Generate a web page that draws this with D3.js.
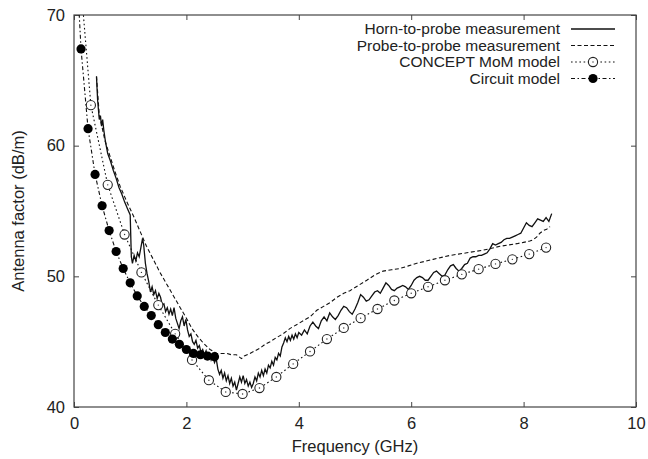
<!DOCTYPE html>
<html><head><meta charset="utf-8">
<script src="https://cdn.jsdelivr.net/npm/d3@7"></script>
<style>
html,body{margin:0;padding:0;background:#fff;}
text{font-family:"Liberation Sans",Arial,sans-serif;fill:#222;}
</style></head>
<body><svg id="c" width="648" height="459"></svg>
<script>
// ---- data ----
const xTicks = [0, 2, 4, 6, 8, 10];
const yTicks = [40, 50, 60, 70];
const seriesNames = ["Horn-to-probe measurement", "Probe-to-probe measurement", "CONCEPT MoM model", "Circuit model"];

const hornFreq = [0.40,0.42,0.45,0.47,0.49,0.51,0.53,0.56,0.60,0.65,0.70,0.75,0.80,0.85,0.90,0.95,1.00,1.02,1.04,1.07,1.10,1.13,1.16,1.19,1.22,1.24,1.27,1.30,1.33,1.36,1.39,1.42,1.45,1.48,1.51,1.54,1.57,1.60,1.63,1.66,1.69,1.72,1.75,1.78,1.81,1.84,1.87,1.90,1.93,1.96,1.99,2.02,2.05,2.08,2.11,2.14,2.17,2.20,2.23,2.26,2.29,2.32,2.35,2.38,2.41,2.44,2.47,2.50,2.53,2.56,2.59,2.62,2.65,2.68,2.71,2.74,2.77,2.80,2.83,2.86,2.89,2.92,2.95,2.98,3.01,3.04,3.07,3.10,3.13,3.16,3.19,3.22,3.25,3.28,3.31,3.34,3.37,3.40,3.43,3.46,3.49,3.52,3.55,3.58,3.61,3.64,3.67,3.70,3.73,3.76,3.79,3.82,3.85,3.88,3.91,3.94,3.97,4.00,4.05,4.10,4.15,4.20,4.25,4.30,4.35,4.40,4.45,4.50,4.55,4.60,4.65,4.70,4.75,4.80,4.85,4.90,4.95,5.00,5.05,5.10,5.15,5.20,5.25,5.30,5.35,5.40,5.45,5.50,5.55,5.60,5.65,5.70,5.75,5.80,5.85,5.90,5.95,6.00,6.05,6.10,6.15,6.20,6.25,6.30,6.35,6.40,6.45,6.50,6.55,6.60,6.65,6.70,6.75,6.80,6.85,6.90,6.95,7.00,7.05,7.10,7.15,7.20,7.25,7.30,7.35,7.40,7.45,7.50,7.55,7.60,7.65,7.70,7.75,7.80,7.85,7.90,7.95,8.00,8.05,8.10,8.15,8.20,8.25,8.30,8.35,8.40,8.45,8.50];
const hornAF = [65.3,63.5,62.0,62.3,61.5,62.0,61.2,60.3,59.4,58.8,58.1,57.5,56.8,56.3,55.7,55.2,54.7,51.5,51.0,51.6,51.2,51.8,51.5,52.2,52.9,52.4,51.0,50.2,49.6,48.8,49.2,48.6,48.9,48.3,48.7,48.4,47.8,47.9,47.3,47.6,47.1,47.5,47.0,47.6,46.8,46.4,46.0,46.6,46.9,46.2,46.7,45.9,45.4,45.6,45.0,44.8,45.1,44.5,44.7,44.2,44.4,44.0,44.3,43.8,44.1,43.6,43.9,43.4,43.7,42.9,42.5,42.8,42.2,42.6,42.0,42.4,41.8,42.2,41.6,41.9,41.3,41.8,42.3,41.9,42.4,41.8,42.1,41.6,41.9,41.5,41.8,42.3,42.0,42.6,42.3,42.8,42.4,42.9,42.6,43.2,43.0,43.5,43.2,43.8,43.6,44.1,43.9,44.6,44.9,45.3,45.0,45.4,45.1,45.5,45.2,45.6,45.3,45.7,45.5,45.9,45.6,46.2,46.5,46.2,46.0,46.6,46.9,46.6,47.2,46.9,46.7,47.0,47.4,47.7,47.6,47.3,47.1,47.5,48.0,48.6,48.4,48.1,48.2,48.5,48.8,48.9,48.7,49.1,49.5,49.3,49.0,48.9,49.1,49.2,49.3,49.2,49.0,49.3,49.7,49.9,50.0,49.9,49.7,49.7,50.0,50.3,50.4,50.2,50.0,50.1,50.5,50.8,50.9,50.6,50.4,50.6,50.9,51.0,51.4,51.5,51.5,51.6,51.6,51.7,51.8,52.1,52.5,52.4,52.5,52.6,52.8,52.9,52.9,53.0,53.1,53.2,53.3,53.7,54.1,53.9,53.8,54.1,54.4,54.3,54.2,54.5,54.2,54.8];

const probeFreq = [0.40,0.45,0.49,0.55,0.64,0.73,0.82,0.94,1.06,1.18,1.29,1.41,1.53,1.65,1.77,1.89,2.00,2.10,2.20,2.30,2.42,2.54,2.63,2.72,2.80,2.89,2.95,2.98,3.03,3.13,3.22,3.31,3.40,3.49,3.60,3.72,3.84,3.96,4.08,4.20,4.32,4.44,4.56,4.68,4.80,4.91,5.06,5.21,5.35,5.50,5.65,5.80,5.95,6.10,6.25,6.39,6.54,6.69,6.84,6.99,7.13,7.28,7.43,7.58,7.73,7.88,8.00,8.11,8.17,8.23,8.29,8.35,8.41,8.47];
const probeAF = [65.3,62.3,61.6,60.4,59.2,58.0,56.9,55.7,54.6,53.4,52.3,51.3,50.3,49.4,48.5,47.6,46.8,46.0,45.4,44.9,44.4,44.1,44.1,44.1,44.0,44.0,43.8,43.7,43.9,44.1,44.3,44.5,44.8,45.0,45.3,45.6,46.0,46.3,46.6,46.9,47.4,47.7,48.0,48.4,48.7,48.9,49.3,49.7,50.1,50.4,50.5,50.6,50.8,51.0,51.15,51.3,51.45,51.6,51.7,51.8,51.9,52.0,52.15,52.3,52.4,52.5,52.6,52.7,52.8,53.0,53.3,53.5,53.6,53.8];

const momFreq = [0.1,0.3,0.6,0.9,1.2,1.5,1.8,2.1,2.4,2.7,3.0,3.3,3.6,3.9,4.2,4.5,4.8,5.1,5.4,5.7,6.0,6.3,6.6,6.9,7.2,7.5,7.8,8.1,8.4];
const momAF = [73.5,63.1,57.0,53.2,50.3,47.8,45.6,43.6,42.05,41.15,41.0,41.45,42.3,43.3,44.25,45.2,46.05,46.8,47.5,48.15,48.7,49.2,49.7,50.15,50.55,50.95,51.3,51.7,52.2];

const circFreq = [0.0625,0.125,0.25,0.375,0.5,0.625,0.75,0.875,1.0,1.125,1.25,1.375,1.5,1.625,1.75,1.875,2.0,2.125,2.25,2.375,2.5];
const circAF = [72.5,67.4,61.3,57.8,55.4,53.5,51.9,50.6,49.5,48.5,47.7,47.0,46.3,45.7,45.2,44.8,44.4,44.1,44.0,43.9,43.85];

// ---- layout ----
const svg = d3.select("#c");
const L = 74, R = 636, T = 15, B = 407;
const x = d3.scaleLinear().domain([0, 10]).range([L, R]);
const y = d3.scaleLinear().domain([40, 70]).range([B, T]);

svg.append("defs").append("clipPath").attr("id", "clip")
  .append("rect").attr("x", L).attr("y", T).attr("width", R - L).attr("height", B - T);

const axisColor = "#444";
const gx = svg.append("g").attr("transform", `translate(0,${B})`)
  .call(d3.axisBottom(x).tickValues(xTicks).tickSize(-5).tickPadding(10).tickFormat(d3.format("d")));
const gxt = svg.append("g").attr("transform", `translate(0,${T})`)
  .call(d3.axisTop(x).tickValues(xTicks).tickSize(-5).tickFormat(""));
const gy = svg.append("g").attr("transform", `translate(${L},0)`)
  .call(d3.axisLeft(y).tickValues(yTicks).tickSize(-5).tickPadding(9).tickFormat(d3.format("d")));
const gyr = svg.append("g").attr("transform", `translate(${R},0)`)
  .call(d3.axisRight(y).tickValues(yTicks).tickSize(-5).tickFormat(""));
[gx, gxt, gy, gyr].forEach(g => {
  g.select(".domain").remove();
  g.selectAll("line").attr("stroke", axisColor).attr("stroke-width", 1);
  g.selectAll("text").style("font-size", "16.5px").attr("fill", "#222");
});
svg.append("rect").attr("x", L).attr("y", T).attr("width", R - L).attr("height", B - T)
  .attr("fill", "none").attr("stroke", axisColor).attr("stroke-width", 1.2);

svg.append("text").attr("x", (L + R) / 2).attr("y", 452).attr("text-anchor", "middle")
  .style("font-size", "16.5px").text("Frequency (GHz)");
svg.append("text").attr("transform", `translate(24,${(T + B) / 2}) rotate(-90)`)
  .attr("text-anchor", "middle").style("font-size", "16.5px").text("Antenna factor (dB/m)");

const plot = svg.append("g").attr("clip-path", "url(#clip)");
const line = d3.line().x(d => x(d[0])).y(d => y(d[1]));
const zip = (a, b) => a.map((v, i) => [v, b[i]]);

const styles = [
  {data: zip(hornFreq, hornAF), dash: null, w: 1.3},
  {data: zip(probeFreq, probeAF), dash: "4,2.5", w: 1.1},
  {data: zip(momFreq, momAF), dash: "1.6,2.6", w: 1.1},
  {data: zip(circFreq, circAF), dash: "4,2.5,1.5,2.5", w: 1.1}
];
styles.forEach(s => {
  plot.append("path").datum(s.data).attr("d", line).attr("fill", "none")
    .attr("stroke", "#111").attr("stroke-width", s.w)
    .attr("stroke-dasharray", s.dash);
});
plot.selectAll("circle.mom").data(styles[2].data).enter().append("circle").attr("class", "mom")
  .attr("cx", d => x(d[0])).attr("cy", d => y(d[1])).attr("r", 4.6)
  .attr("fill", "#fff").attr("stroke", "#222").attr("stroke-width", 1.1);
plot.selectAll("circle.momc").data(styles[2].data).enter().append("circle").attr("class", "momc")
  .attr("cx", d => x(d[0])).attr("cy", d => y(d[1])).attr("r", 0.7).attr("fill", "#333");
plot.selectAll("circle.circ").data(styles[3].data).enter().append("circle").attr("class", "circ")
  .attr("cx", d => x(d[0])).attr("cy", d => y(d[1])).attr("r", 4.6).attr("fill", "#000");

const lg = svg.append("g");
const rowY = [29, 45.5, 62, 78.5];
seriesNames.forEach((n, i) => {
  lg.append("text").attr("x", 560).attr("y", rowY[i]).attr("dy", "0.35em")
    .attr("text-anchor", "end").style("font-size", "15.5px").text(n);
  lg.append("line").attr("x1", 571).attr("x2", 615).attr("y1", rowY[i]).attr("y2", rowY[i])
    .attr("stroke", "#111").attr("stroke-width", styles[i].w).attr("stroke-dasharray", styles[i].dash);
});
lg.append("circle").attr("cx", 593).attr("cy", rowY[2]).attr("r", 4.6).attr("fill", "#fff").attr("stroke", "#222").attr("stroke-width", 1.1);
lg.append("circle").attr("cx", 593).attr("cy", rowY[2]).attr("r", 0.7).attr("fill", "#333");
lg.append("circle").attr("cx", 593).attr("cy", rowY[3]).attr("r", 4.6).attr("fill", "#000");
</script></body></html>
